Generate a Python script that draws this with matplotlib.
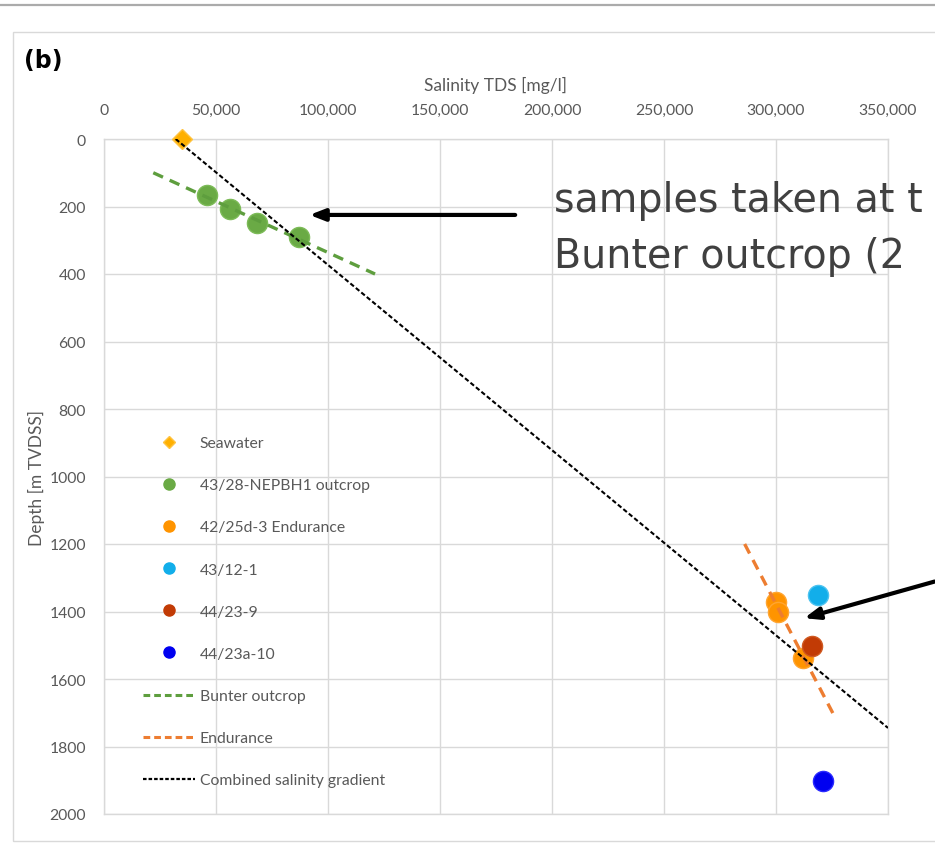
import matplotlib
matplotlib.use("Agg")
import matplotlib.pyplot as plt
from matplotlib.lines import Line2D
from matplotlib.patches import Rectangle
from matplotlib.ticker import FuncFormatter

plt.rcParams['font.family'] = ['Lato', 'DejaVu Sans']

# ---- data ----
seawater_x = [35000]
seawater_depth = [0]

outcrop_x = [45900, 56300, 68400, 87200]
outcrop_depth = [165, 207, 248, 290]

endurance_x = [300000, 301000, 312200]
endurance_depth = [1373, 1402, 1539]

w43_12_x = [318600]
w43_12_depth = [1351]

w44_23_9_x = [315900]
w44_23_9_depth = [1503]

w44_23a_x = [320800]
w44_23a_depth = [1901]

bunter_line_x = [22000, 121000]
bunter_line_depth = [100, 400]

endurance_line_x = [286000, 325600]
endurance_line_depth = [1200, 1704]

combined_line_x = [32000, 350000]
combined_line_depth = [0, 1745]

x_ticks = [0, 50000, 100000, 150000, 200000, 250000, 300000, 350000]
y_ticks = [0, 200, 400, 600, 800, 1000, 1200, 1400, 1600, 1800, 2000]

# ---- colours ----
c_sea = '#FFB000'
c_green = '#6AAA45'
c_orange = '#FF9400'
c_lblue = '#12AEEA'
c_dred = '#C23B05'
c_blue = '#0000F0'
c_gline = '#5E9E3E'
c_oline = '#ED7D31'
c_text = '#595959'
c_grid = '#D9D9D9'

W, H = 935, 862
fig = plt.figure(figsize=(W / 100, H / 100), dpi=100)

def fx(px):
    return px / W

def fy(py):
    return 1 - py / H

# top gray rule and panel frame
fig.add_artist(Line2D([0, 1], [fy(6), fy(6)], transform=fig.transFigure,
                      color='#ABABAB', lw=1.6))
fig.add_artist(Rectangle((fx(12.7), fy(842)), fx(1000) - fx(12.7), fy(33) - fy(842),
                         transform=fig.transFigure, fill=False,
                         edgecolor='#D9D9D9', lw=1.0))

fig.text(fx(24), fy(61), '(b)', fontsize=17, fontweight='bold', color='black',
         va='center', ha='left', family=['DejaVu Sans'])

ax = fig.add_axes([fx(104), fy(815), fx(888) - fx(104), fy(140) - fy(815)])
ax.set_xlim(0, 350000)
ax.set_ylim(2000, 0)
ax.set_xticks(x_ticks)
ax.set_yticks(y_ticks)
ax.xaxis.tick_top()
ax.xaxis.set_label_position('top')
ax.xaxis.set_major_formatter(FuncFormatter(lambda v, p: f'{int(v):,}'))
ax.tick_params(axis='both', length=0, labelsize=11.3, labelcolor=c_text)
ax.tick_params(axis='x', pad=16)
ax.tick_params(axis='y', pad=13)
ax.grid(True, color=c_grid, lw=1.0)
ax.set_axisbelow(True)
for s in ax.spines.values():
    s.set_color(c_grid)
    s.set_linewidth(1.0)

ax.set_xlabel('Salinity TDS [mg/l]', fontsize=12.5, color=c_text, labelpad=9)
ax.set_ylabel('Depth [m TVDSS]', fontsize=12.5, color=c_text, labelpad=3)

# data points
ax.plot(outcrop_x, outcrop_depth, 'o', ms=14.5, color=c_green, mec='#7DBB58', mew=1, zorder=3)
ax.plot(endurance_x, endurance_depth, 'o', ms=14.5, color=c_orange, mec='#FFA531', mew=1, zorder=3)
ax.plot(w43_12_x, w43_12_depth, 'o', ms=14.5, color=c_lblue, mec='#4CC3F0', mew=1, zorder=3)
ax.plot(w44_23_9_x, w44_23_9_depth, 'o', ms=14.5, color=c_dred, mec='#D05A22', mew=1, zorder=3)
ax.plot(w44_23a_x, w44_23a_depth, 'o', ms=14.5, color=c_blue, mec='#2B2BFF', mew=1, zorder=3)
ax.plot(seawater_x, seawater_depth, 'D', ms=10, color=c_sea, mec='#FFC340', mew=1,
        zorder=3, clip_on=False)

# trend lines
ax.plot(bunter_line_x, bunter_line_depth, color=c_gline, lw=2.4, dashes=(3.2, 2.2), zorder=4)
ax.plot(endurance_line_x, endurance_line_depth, color=c_oline, lw=2.4, dashes=(3.2, 2.2), zorder=4)
ax.plot(combined_line_x, combined_line_depth, color='black', lw=1.5, dashes=(2.2, 1.2), zorder=4)

# annotations
ax.annotate('', xy=(90500, 225), xytext=(184800, 225),
            arrowprops=dict(arrowstyle='-|>,head_length=0.9,head_width=0.35',
                            color='black', lw=3), annotation_clip=False)
ax.annotate('', xy=(311400, 1422), xytext=(372000, 1309),
            arrowprops=dict(arrowstyle='-|>,head_length=0.9,head_width=0.35',
                            color='black', lw=3), annotation_clip=False)

ann_font = ['DejaVu Sans']
fig.text(fx(554), fy(212), 'samples taken at t', fontsize=28.5, color='#404040',
         va='baseline', ha='left', family=ann_font)
fig.text(fx(554), fy(268), 'Bunter outcrop (2', fontsize=28.5, color='#404040',
         va='baseline', ha='left', family=ann_font)

# legend
handles = [
    Line2D([], [], ls='none', marker='D', ms=6.5, color=c_sea, mec='#FFC340'),
    Line2D([], [], ls='none', marker='o', ms=8, color=c_green),
    Line2D([], [], ls='none', marker='o', ms=8, color=c_orange),
    Line2D([], [], ls='none', marker='o', ms=8, color=c_lblue),
    Line2D([], [], ls='none', marker='o', ms=8, color=c_dred),
    Line2D([], [], ls='none', marker='o', ms=8, color=c_blue),
    Line2D([], [], color=c_gline, lw=2.2, dashes=(2.2, 1.3)),
    Line2D([], [], color=c_oline, lw=2.2, dashes=(2.2, 1.3)),
    Line2D([], [], color='black', lw=1.6, dashes=(1.6, 0.9)),
]
labels = ['Seawater', '43/28-NEPBH1 outcrop', '42/25d-3 Endurance', '43/12-1',
          '44/23-9', '44/23a-10', 'Bunter outcrop', 'Endurance',
          'Combined salinity gradient']
leg = fig.legend(handles, labels, loc='upper left',
                 bbox_to_anchor=(fx(143), fy(437)), frameon=False,
                 fontsize=11.3, labelcolor=c_text, handlelength=3.3,
                 handletextpad=0.32, labelspacing=1.795, borderaxespad=0,
                 borderpad=0)

fig.savefig('out.png', dpi=100)
